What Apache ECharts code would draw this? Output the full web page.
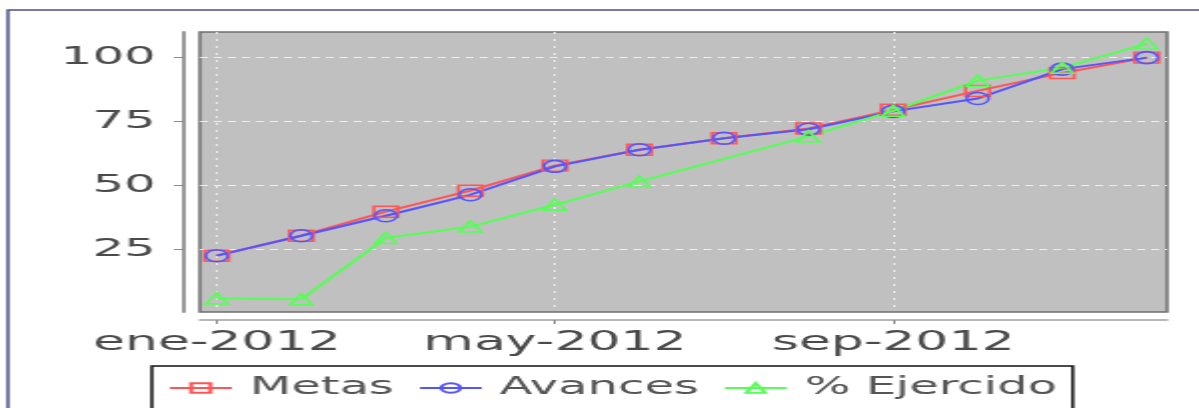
<!DOCTYPE html>
<html>
<head>
<meta charset="utf-8">
<script src="https://cdn.jsdelivr.net/npm/echarts@6/dist/echarts.min.js"></script>
<style>
  html, body { margin: 0; padding: 0; background: #fff; overflow: hidden; }
  /* el grafico original esta estirado horizontalmente, se dibuja a la mitad y se escala */
  #chart { width: 600px; height: 408px; transform: scaleX(1.99833); transform-origin: 0 0; }
</style>
</head>
<body>
<div id="chart"></div>
<script>
const meses = ['ene-2012', 'feb-2012', 'mar-2012', 'abr-2012', 'may-2012', 'jun-2012',
    'jul-2012', 'ago-2012', 'sep-2012', 'oct-2012', 'nov-2012', 'dic-2012'];
const xTicks = [0, 4, 8];
const yTicks = [25, 50, 75, 100];

const metas = [22.6, 30.4, 39.8, 48.0, 57.8, 64.0, 68.5, 72.3, 79.6, 87.0, 94.0, 100];
const avances = [22.6, 30.4, 38.2, 46.4, 57.5, 64.0, 68.5, 72.0, 79.0, 84.0, 95.5, 100];
const ejercido = [5.9, 5.6, 29.5, 34.0, 42.5, 51.6, null, 69.2, 79.2, 91.0, 96.0, 105.5];

const toPairs = arr => arr.map((v, i) => [i, v]);

const chart = echarts.init(document.getElementById('chart'));

function serie(name, color, symbol, size, data){
    return {
        name: name,
        type: 'line',
        data: toPairs(data),
        connectNulls: true,
        symbol: symbol,
        symbolSize: size,
        showAllSymbol: true,
        color: color,
        lineStyle: { color: color, width: 2 },
        itemStyle: { color: 'rgba(0,0,0,0)', borderColor: color, borderWidth: 1.5 },
        emphasis: { disabled: true },
        animation: false
    };
}

chart.setOption({
    textStyle: { fontFamily: 'DejaVu Sans' },
    graphic: [{
        type: 'rect',
        shape: { x: 4, y: 10, width: 700, height: 500 },
        style: { fill: 'none', stroke: '#4b4f8c', lineWidth: 1.5 },
        silent: true
    }],
    grid: {
        left: 100, right: 16, top: 32, bottom: 96,
        show: true,
        backgroundColor: '#c0c0c0',
        borderColor: '#6e6e6e',
        borderWidth: 1.5
    },
    xAxis: {
        type: 'value',
        min: -0.2,
        max: 11.24,
        offset: 8,
        axisLine: { show: true, onZero: false, lineStyle: { color: '#a0a0a0', width: 1.5 } },
        axisTick: { show: true, customValues: xTicks, length: 4, lineStyle: { color: '#888' } },
        axisLabel: {
            customValues: xTicks,
            formatter: v => meses[v],
            fontSize: 26,
            color: '#4a4a4a',
            margin: 10
        },
        splitLine: {
            show: true,
            customValues: xTicks,
            lineStyle: { color: '#eeeeee', width: 1, type: [2, 5] }
        }
    },
    yAxis: {
        type: 'value',
        min: 0.6,
        max: 110,
        offset: 8,
        axisLine: { show: true, onZero: false, lineStyle: { color: '#999', width: 2 } },
        axisTick: { show: true, customValues: yTicks, length: 5, lineStyle: { color: '#888' } },
        axisLabel: {
            customValues: yTicks,
            fontSize: 25,
            color: '#4a4a4a',
            margin: 14
        },
        splitLine: {
            show: true,
            customValues: yTicks,
            lineStyle: { color: '#eeeeee', width: 1, type: [4, 3] }
        }
    },
    legend: {
        left: 76,
        top: 366,
        padding: [10, 8, 30, 8],
        backgroundColor: '#fff',
        borderColor: '#111',
        borderWidth: 1.5,
        borderRadius: 0,
        itemWidth: 31,
        itemHeight: 12,
        itemGap: 12,
        textStyle: { fontSize: 24, color: '#555', padding: [0, 0, 0, 4] },
        data: ['Metas', 'Avances', '% Ejercido']
    },
    series: [
        serie('Metas', '#ff5555', 'rect', [12, 11], metas),
        serie('Avances', '#5555ff', 'circle', [11, 12], avances),
        serie('% Ejercido', '#55ff55', 'triangle', [11, 11], ejercido)
    ]
});
</script>
</body>
</html>
